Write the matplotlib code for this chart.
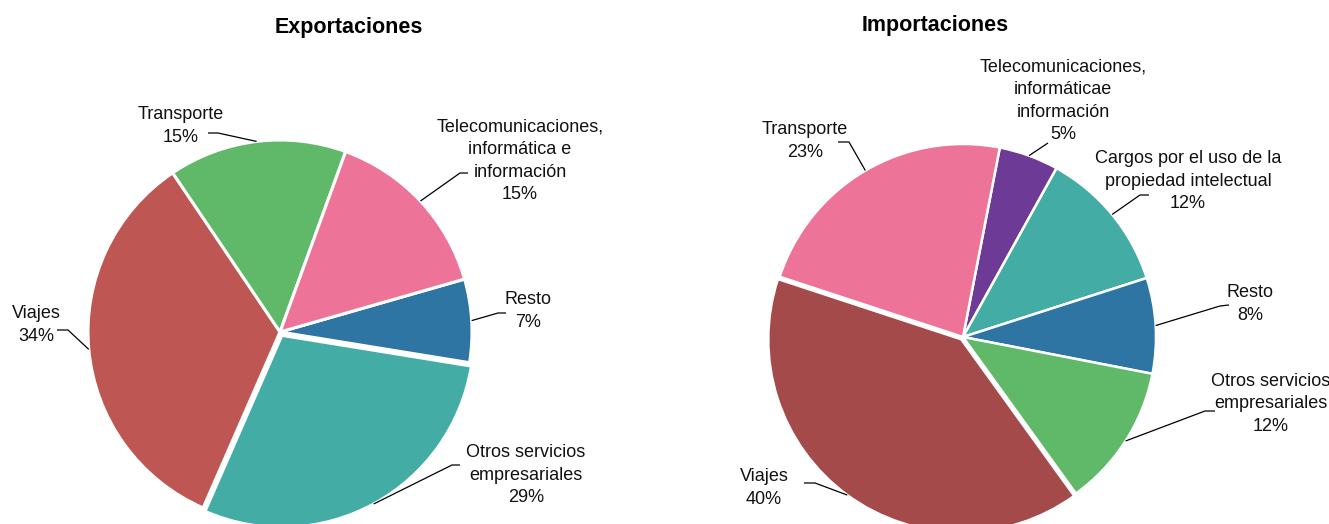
import numpy as np
import matplotlib
matplotlib.use("Agg")
import matplotlib.pyplot as plt

plt.rcParams['font.family'] = ['Liberation Sans', 'DejaVu Sans']

# ---------------- data ----------------
exp_labels = ["Resto", "Otros servicios\nempresariales", "Viajes", "Transporte",
              "Telecomunicaciones,\ninformática e\ninformación"]
exp_values = [7, 29, 34, 15, 15]
exp_colors = ["#2E75A4", "#43ADA5", "#BE5754", "#60B968", "#EE7398"]

imp_labels = ["Telecomunicaciones,\ninformáticae\ninformación",
              "Cargos por el uso de la\npropiedad intelectual", "Resto",
              "Otros servicios\nempresariales", "Viajes", "Transporte"]
imp_values = [5, 12, 8, 12, 40, 23]
imp_colors = ["#6D3A96", "#43ADA5", "#2E75A4", "#60B968", "#A54A4A", "#EE7398"]

# ---------------- layout (pixels) ----------------
W, H = 1329, 524
exp_layout = dict(ox=0, w=660, cx=280, cy=332, R=192, start=16,
                  explode=[0.0, 0.02, 0.0, 0.0, 0.0], lw=2.2,
                  title=(349, 27), name="Exportaciones",
                  text=[(528, 311), (526, 475), (36, 325), (181, 126), (520, 161)],
                  elbow=[[(506, 313), (498, 313)], [(460, 465), (452, 465)],
                         [(57, 330), (68, 330)], [(208, 133), (218, 133)],
                         [(468, 173), (460, 173)]])
imp_layout = dict(ox=660, w=669, cx=963, cy=337, R=193, start=79,
                  explode=[0.0, 0.0, 0.0, 0.0, 0.015, 0.0], lw=1.8,
                  title=(935, 26), name="Importaciones",
                  text=[(1063, 101), (1188, 181), (1250, 304), (1271, 404), (764, 488), (805, 141)],
                  elbow=[[(1048, 143)], [(1149, 195), (1140, 195)],
                         [(1229, 305), (1220, 306)], [(1215, 411), (1205, 411)],
                         [(804, 483), (815, 483)], [(838, 142), (849, 142)]])

fig = plt.figure(figsize=(W / 100, H / 100), dpi=100)
fig.patch.set_facecolor("white")


def draw(layout, labels, values, colors):
    ox, w, cx, cy, R = layout["ox"], layout["w"], layout["cx"], layout["cy"], layout["R"]
    ax = fig.add_axes([ox / W, 0, w / W, 1])
    lcx = cx - ox

    def p2d(px, py):
        return ((px - cx) / R, (cy - py) / R)

    wedges, _ = ax.pie(values, colors=colors, startangle=layout["start"],
                       counterclock=False, radius=1.0, explode=layout["explode"],
                       wedgeprops=dict(edgecolor="white", linewidth=layout["lw"]))
    ax.set_xlim(-lcx / R, (w - lcx) / R)
    ax.set_ylim((cy - H) / R, cy / R)
    ax.set_aspect("auto")
    ax.axis("off")

    for i, wdg in enumerate(wedges):
        mid = np.deg2rad((wdg.theta1 + wdg.theta2) / 2)
        c = wdg.center
        r = wdg.r
        wx, wy = c[0] + r * np.cos(mid), c[1] + r * np.sin(mid)
        pts = [p2d(*p) for p in layout["elbow"][i]] + [(wx, wy)]
        xs, ys = zip(*pts)
        ax.plot(xs, ys, color="black", lw=0.9, solid_capstyle="butt", clip_on=False)
        tx, ty = p2d(*layout["text"][i])
        ax.text(tx, ty, f"{labels[i]}\n{values[i]}%", ha="center", va="center",
                fontsize=13, linespacing=1.42, color="#111111", multialignment="center")

    tx, ty = layout["title"]
    fig.text(tx / W, 1 - ty / H, layout["name"], ha="center", va="center",
             fontsize=15.5, fontweight="bold", color="black")


draw(exp_layout, exp_labels, exp_values, exp_colors)
draw(imp_layout, imp_labels, imp_values, imp_colors)

fig.savefig("out.png", dpi=100, facecolor="white")
